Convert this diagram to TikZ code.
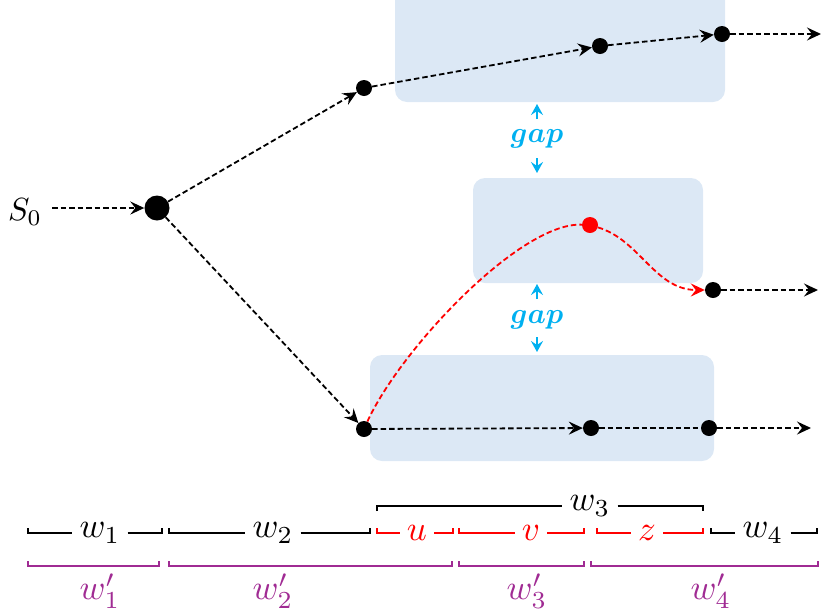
\documentclass[tikz,border=0pt]{standalone}
\usetikzlibrary{arrows.meta}
\definecolor{boxblue}{RGB}{220,232,245}
\definecolor{gapcyan}{RGB}{0,176,240}
\definecolor{wpurple}{RGB}{160,43,147}
\newcommand{\myscl}[2]{\scalebox{#1}{#2}}
\tikzset{
  arrowed/.style={-{Stealth[length=14pt,width=13pt,inset=5pt]}},
  flow/.style={arrowed, dash pattern=on 5.5pt off 3pt, line width=1.8pt},
  bdot/.style={circle, fill=black, inner sep=0pt, minimum size=16pt},
  bigdot/.style={circle, fill=black, inner sep=0pt, minimum size=25pt},
  rdot/.style={circle, fill=red, inner sep=0pt, minimum size=16pt},
  region/.style={fill=boxblue, rounded corners=12pt},
  lab/.style={inner sep=7pt},
  gaptext/.style={text=gapcyan},
  gaparrow/.style={gapcyan, line width=1.8pt, -{Stealth[length=11pt,width=12pt,inset=4pt]}},
  brk/.style={line width=1.5pt},
}
\begin{document}
\begin{tikzpicture}[x=1pt,y=-1pt]
\useasboundingbox (0,0) rectangle (822,614);
% regions
\path[region] (395,-20) rectangle (725,102);
\path[region] (473,178) rectangle (703,283);
\path[region] (370,355) rectangle (714,461);
% nodes
\node (s0) at (25,212) {\myscl{3.2}{$S_0$}};
\coordinate (s0start) at (52,208);
\node[bigdot] (n0) at (157,208) {};
\node[bdot] (a) at (364,88) {};
\node[bdot] (a1) at (600,46) {};
\node[bdot] (a2) at (722,34) {};
\coordinate (aend) at (821,34);
\node[bdot] (b) at (364,429) {};
\node[bdot] (b1) at (591,428) {};
\node[bdot] (b2) at (709,428) {};
\coordinate (bend) at (811,428);
\node[rdot] (r) at (590,225) {};
\node[bdot] (c) at (713,290) {};
\coordinate (cend) at (818,290);
% connectors
\draw[flow] (s0start) -- (n0);
\draw[flow] (n0) -- (a);
\draw[flow] (n0) -- (b);
\draw[flow] (a) -- (a1);
\draw[flow] (a1) -- (a2);
\draw[flow] (a2) -- (aend);
\draw[flow] (b) -- (b1);
\draw[flow,-] (b1) -- (b2);
\draw[flow] (b2) -- (bend);
\draw[flow] (c) -- (cend);
\draw[flow,red,-] (b) .. controls (400,350) and (520,222) .. (r);
\draw[flow,red] (r) .. controls (640,240) and (655,290) .. (c);
% gaps
\node[gaptext] (g1) at (537,139) {\myscl{2.9}{\boldmath$gap$}};
\draw[gaparrow] (537,119) -- (537,104);
\draw[gaparrow] (537,158) -- (537,173);
\node[gaptext] (g2) at (537,320) {\myscl{2.9}{\boldmath$gap$}};
\draw[gaparrow] (537,299) -- (537,284);
\draw[gaparrow] (537,337) -- (537,352);
% row 1 brackets
\node[lab] (w1) at (100,533) {\myscl{3.5}{$w_1$}};
\draw[brk] (28,528) -- (28,533) -- (w1.west);
\draw[brk] (w1.east) -- (162,533) -- (162,528);
\node[lab] (w2) at (273,533) {\myscl{3.5}{$w_2$}};
\draw[brk] (169,528) -- (169,533) -- (w2.west);
\draw[brk] (w2.east) -- (370,533) -- (370,528);
\node[lab,text=red] (u) at (417,533) {\myscl{3.5}{$u$}};
\draw[brk,red] (377,528) -- (377,533) -- (u.west);
\draw[brk,red] (u.east) -- (453,533) -- (453,528);
\node[lab,text=red] (v) at (531,533) {\myscl{3.5}{$v$}};
\draw[brk,red] (459,528) -- (459,533) -- (v.west);
\draw[brk,red] (v.east) -- (584,533) -- (584,528);
\node[lab,text=red] (z) at (647,533) {\myscl{3.5}{$z$}};
\draw[brk,red] (597,528) -- (597,533) -- (z.west);
\draw[brk,red] (z.east) -- (703,533) -- (703,528);
\node[lab] (w4) at (763,533) {\myscl{3.5}{$w_4$}};
\draw[brk] (711,528) -- (711,533) -- (w4.west);
\draw[brk] (w4.east) -- (817,533) -- (817,528);
% w3 top bracket
\node[lab] (w3) at (590,506) {\myscl{3.5}{$w_3$}};
\draw[brk] (377,511) -- (377,506) -- (w3.west);
\draw[brk] (w3.east) -- (703,506) -- (703,511);
% purple row
\draw[brk,wpurple] (28,561) -- (28,566) -- (159,566) -- (159,561);
\draw[brk,wpurple] (169,561) -- (169,566) -- (452,566) -- (452,561);
\draw[brk,wpurple] (459,561) -- (459,566) -- (584,566) -- (584,561);
\draw[brk,wpurple] (591,561) -- (591,566) -- (818,566) -- (818,561);
\node[lab,text=wpurple] (p1) at (100,591) {\myscl{3.5}{$w'_1$}};
\node[lab,text=wpurple] (p2) at (273,591) {\myscl{3.5}{$w'_2$}};
\node[lab,text=wpurple] (p3) at (527,591) {\myscl{3.5}{$w'_3$}};
\node[lab,text=wpurple] (p4) at (711,591) {\myscl{3.5}{$w'_4$}};
\end{tikzpicture}
\end{document}
